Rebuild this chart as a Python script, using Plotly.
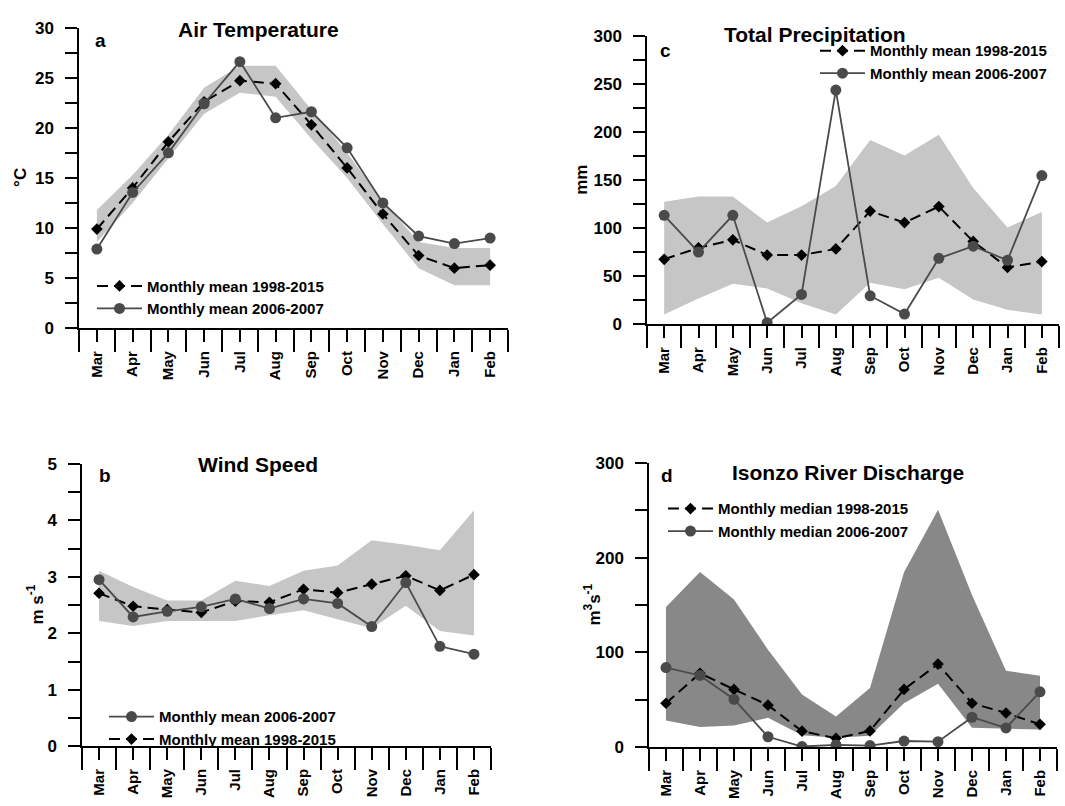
import plotly.graph_objects as go

W, H = 1065, 806

months = ["Mar", "Apr", "May", "Jun", "Jul", "Aug", "Sep", "Oct", "Nov", "Dec", "Jan", "Feb"]

# Panel a: Air Temperature (°C)
temp_mean_9815 = [9.9, 14.0, 18.6, 22.6, 24.7, 24.4, 20.3, 16.0, 11.4, 7.25, 6.0, 6.3]
temp_mean_0607 = [7.9, 13.55, 17.5, 22.4, 26.6, 21.0, 21.6, 18.0, 12.5, 9.2, 8.45, 9.0]
temp_upper = [11.8, 15.3, 19.3, 24.0, 26.2, 26.2, 21.8, 17.5, 12.7, 8.6, 8.0, 8.0]
temp_lower = [8.6, 12.5, 16.9, 21.4, 23.5, 23.1, 18.9, 15.0, 10.4, 6.0, 4.3, 4.3]

# Panel b: Wind Speed (m s-1)
wind_mean_9815 = [2.71, 2.48, 2.42, 2.37, 2.57, 2.55, 2.78, 2.72, 2.87, 3.02, 2.76, 3.04]
wind_mean_0607 = [2.95, 2.29, 2.39, 2.47, 2.61, 2.44, 2.61, 2.53, 2.12, 2.9, 1.77, 1.63]
wind_upper = [3.11, 2.82, 2.58, 2.58, 2.93, 2.84, 3.11, 3.2, 3.65, 3.57, 3.47, 4.18]
wind_lower = [2.22, 2.13, 2.22, 2.22, 2.22, 2.32, 2.41, 2.25, 2.09, 2.49, 2.04, 1.96]

# Panel c: Total Precipitation (mm)
prec_mean_9815 = [67.8, 79.7, 88.1, 72.2, 72.2, 78.6, 118, 106, 122.7, 86.4, 59.3, 65.4]
prec_mean_0607 = [113.6, 75.3, 113.6, 1.7, 31.2, 244, 29.8, 10.8, 68.8, 81.4, 66.8, 155]
prec_upper = [127.8, 133.2, 133.2, 106, 123, 144, 192, 176, 197.6, 142, 101, 117]
prec_lower = [10.2, 27, 42.4, 37.3, 22, 10.2, 43.4, 36.6, 48.5, 26, 15.3, 10.2]

# Panel d: Isonzo River Discharge (m3 s-1)
disc_median_9815 = [46.4, 78, 61, 44.4, 16.9, 9.3, 17.2, 61, 87.7, 46.4, 36.1, 24.1]
disc_median_0607 = [84, 75.7, 50.6, 11, 0.7, 2.4, 1.7, 6.5, 5.8, 31.6, 20.3, 58.5]
disc_upper = [148, 185, 156, 103, 55.7, 32.3, 62.6, 184.7, 250.8, 160.6, 80.8, 75.3]
disc_lower = [28.2, 21.3, 23, 31, 12.7, 10, 12, 46.4, 67, 20.6, 19.6, 18.6]

FONT = "Liberation Sans, Arial, sans-serif"
BAND_LIGHT = "#c6c6c6"
BAND_DARK = "#888888"
CIRCLE_COL = "#4a4a4a"


def px_x(p):
    return p / W


def px_y(p):
    return 1 - p / H


x_idx = list(range(len(months)))

fig = go.Figure()

panels = [
    dict(ax="", leg="legend", dom=(79, 508, 19, 327), band=BAND_LIGHT, up=temp_upper, lo=temp_lower,
         dia=temp_mean_9815, cir=temp_mean_0607,
         names=("Monthly mean 1998-2015", "Monthly mean 2006-2007"), rng=[0, 30], dtick=5, minor=2.5,
         circ_first=False),
    dict(ax="2", leg="legend2", dom=(647, 1059, 28, 323), band=BAND_LIGHT, up=prec_upper, lo=prec_lower,
         dia=prec_mean_9815, cir=prec_mean_0607,
         names=("Monthly mean 1998-2015", "Monthly mean 2006-2007"), rng=[0, 300], dtick=50, minor=25,
         circ_first=False),
    dict(ax="3", leg="legend3", dom=(82, 491, 466, 755), band=BAND_LIGHT, up=wind_upper, lo=wind_lower,
         dia=wind_mean_9815, cir=wind_mean_0607,
         names=("Monthly mean 1998-2015", "Monthly mean 2006-2007"), rng=[0, 5], dtick=1, minor=0.5,
         circ_first=True),
    dict(ax="4", leg="legend4", dom=(649, 1057, 465, 756), band=BAND_DARK, up=disc_upper, lo=disc_lower,
         dia=disc_median_9815, cir=disc_median_0607,
         names=("Monthly median 1998-2015", "Monthly median 2006-2007"), rng=[0, 300], dtick=100, minor=50,
         circ_first=False),
]

layout_axes = {}
for i, p in enumerate(panels):
    xa = "x" + p["ax"]
    ya = "y" + p["ax"]
    # shaded band (range)
    fig.add_trace(go.Scatter(
        x=x_idx + x_idx[::-1], y=p["up"] + p["lo"][::-1],
        fill="toself", fillcolor=p["band"], line=dict(width=0), mode="lines",
        hoverinfo="skip", showlegend=False, xaxis=xa, yaxis=ya))
    # long-term mean/median (diamonds, dashed)
    fig.add_trace(go.Scatter(
        x=x_idx, y=p["dia"], mode="lines+markers", name=p["names"][0],
        line=dict(color="black", width=2, dash="11px,6px"),
        marker=dict(symbol="diamond", size=9, color="black"),
        legend=p["leg"], legendgroup=f"g{i}a", legendrank=2 if p["circ_first"] else 1,
        xaxis=xa, yaxis=ya))
    # 2006-2007 (circles, solid)
    fig.add_trace(go.Scatter(
        x=x_idx, y=p["cir"], mode="lines+markers", name=p["names"][1],
        line=dict(color=CIRCLE_COL, width=1.8),
        marker=dict(symbol="circle", size=11, color=CIRCLE_COL),
        legend=p["leg"], legendgroup=f"g{i}b", legendrank=1 if p["circ_first"] else 2,
        xaxis=xa, yaxis=ya))

    x0, x1, yt, yb = p["dom"]
    layout_axes["xaxis" + p["ax"]] = dict(
        domain=[px_x(x0), px_x(x1)], range=[-0.5, 11.5], anchor=ya,
        tickmode="array", tickvals=x_idx, ticktext=months, tickangle=-90,
        ticks="outside", ticklen=12, tickwidth=1.5, tickcolor="black",
        minor=dict(tickmode="linear", tick0=0.5, dtick=1, ticks="outside", ticklen=22,
                   tickwidth=1.5, tickcolor="black"),
        showline=True, linecolor="black", linewidth=1.5, showgrid=False, zeroline=False,
        ticklabelstandoff=3,
        tickfont=dict(family=FONT, size=15, color="black", weight="bold"), fixedrange=True)
    layout_axes["yaxis" + p["ax"]] = dict(
        domain=[px_y(yb), px_y(yt)], range=p["rng"], anchor=xa,
        tickmode="linear", tick0=0, dtick=p["dtick"],
        ticks="outside", ticklen=12, tickwidth=1.5, tickcolor="black",
        minor=dict(tickmode="linear", tick0=0, dtick=p["minor"], ticks="outside", ticklen=12,
                   tickwidth=1.5, tickcolor="black"),
        showline=True, linecolor="black", linewidth=1.5, showgrid=False, zeroline=False,
        ticklabelstandoff=8,
        tickfont=dict(family=FONT, size=17, color="black", weight="bold"), fixedrange=True)

leg_common = dict(bgcolor="rgba(0,0,0,0)", borderwidth=0, xanchor="left", yanchor="top",
                  font=dict(family=FONT, size=15, color="black", weight="bold"),
                  itemwidth=45, tracegroupgap=2, traceorder="normal")

legends = dict(
    legend=dict(x=px_x(92), y=px_y(267), **leg_common),
    legend2=dict(x=px_x(815), y=px_y(26), **leg_common),
    legend3=dict(x=px_x(104), y=px_y(708), **leg_common),
    legend4=dict(x=px_x(663), y=px_y(495), **leg_common),
)


def ann(text, cx, cy, size, angle=0):
    return dict(text=text, x=px_x(cx), y=px_y(cy), xref="paper", yref="paper",
                xanchor="center", yanchor="middle", showarrow=False, textangle=angle,
                font=dict(family=FONT, size=size, color="black", weight="bold"))


annotations = [
    ann("Air Temperature", 258, 21, 21),
    ann("Total Precipitation", 815, 26, 21),
    ann("Wind Speed", 258, 467, 21),
    ann("Isonzo River Discharge", 848, 475, 21),
    ann("a", 100, 32, 19),
    ann("c", 665, 42, 19),
    ann("b", 105, 478, 19),
    ann("d", 667, 478, 19),
    ann("°C", 21, 173, 17, -90),
    ann("mm", 582, 175, 17, -90),
    ann("m s<sup>-1</sup>", 35, 610, 17, -90),
    ann("m<sup>3</sup>s<sup>-1</sup>", 592, 610, 17, -90),
]

fig.update_layout(
    width=W, height=H, margin=dict(l=0, r=0, t=0, b=0),
    paper_bgcolor="white", plot_bgcolor="white",
    font=dict(family=FONT, color="black"),
    annotations=annotations, showlegend=True,
    **layout_axes, **legends)

fig.write_html("out.html", include_plotlyjs=True, config={"displayModeBar": False})
